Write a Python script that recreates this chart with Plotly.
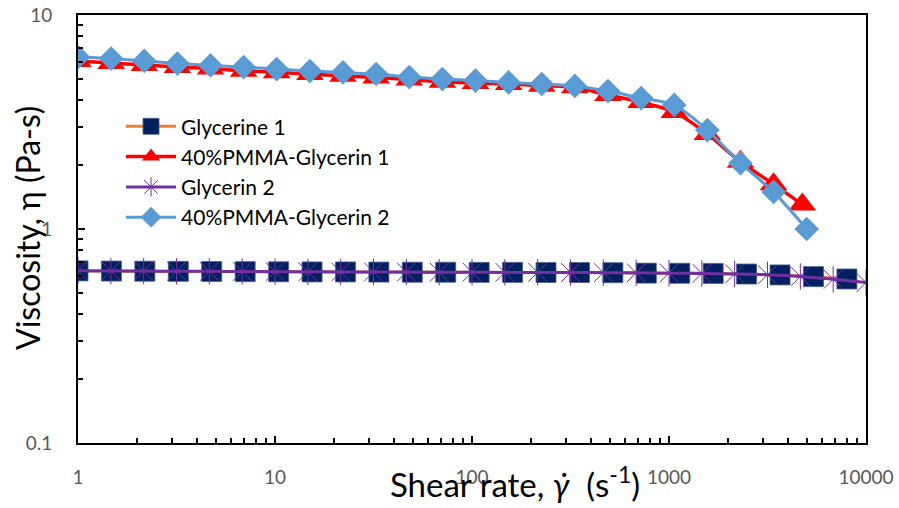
import plotly.graph_objects as go

# ---------------- data ----------------
shear_glycerine1 = [1.0, 1.478, 2.185, 3.230, 4.773, 7.055, 10.43, 15.42, 22.79, 33.68,
                    49.77, 73.56, 108.7, 160.7, 237.5, 351.1, 518.9, 767.0, 1134, 1676,
                    2477, 3662, 5413, 8000]
visc_glycerine1 = [0.637, 0.636, 0.635, 0.634, 0.633, 0.632, 0.631, 0.630, 0.630, 0.629,
                   0.628, 0.628, 0.627, 0.627, 0.626, 0.626, 0.625, 0.622, 0.621, 0.620,
                   0.616, 0.610, 0.599, 0.584]

shear_pmma1 = [1.0, 1.473, 2.169, 3.195, 4.705, 6.929, 10.20, 15.03, 22.14, 32.61,
               48.02, 70.72, 104.1, 153.4, 225.9, 332.7, 490.0, 721.8, 1063, 1565,
               2306, 3395, 4750]
visc_pmma1 = [6.10, 5.97, 5.84, 5.72, 5.62, 5.49, 5.40, 5.30, 5.20, 5.10,
              4.99, 4.88, 4.81, 4.76, 4.67, 4.59, 4.23, 3.92, 3.52, 2.78,
              2.06, 1.62, 1.30]

shear_glycerin2 = [1.0, 1.468, 2.154, 3.162, 4.642, 6.813, 10.0, 14.68, 21.54, 31.62,
                   46.42, 68.13, 100.0, 146.8, 215.4, 316.2, 464.2, 681.3, 1000, 1468,
                   2154, 3162, 4642, 6813, 10000]
visc_glycerin2 = [0.638, 0.637, 0.636, 0.635, 0.634, 0.633, 0.632, 0.631, 0.630, 0.630,
                  0.629, 0.628, 0.628, 0.627, 0.627, 0.626, 0.625, 0.624, 0.622, 0.620,
                  0.617, 0.611, 0.600, 0.582, 0.562]

shear_pmma2 = [1.0, 1.473, 2.169, 3.195, 4.705, 6.929, 10.20, 15.03, 22.14, 32.61,
               48.02, 70.72, 104.1, 153.4, 225.9, 332.7, 490.0, 721.8, 1063, 1565,
               2306, 3395, 5000]
visc_pmma2 = [6.36, 6.26, 6.10, 5.93, 5.81, 5.71, 5.59, 5.47, 5.39, 5.30,
              5.13, 5.02, 4.94, 4.84, 4.76, 4.66, 4.41, 4.09, 3.80, 2.90,
              2.03, 1.49, 1.00]

x_tick_values = [1, 10, 100, 1000, 10000]
x_tick_labels = ["1", "10", "100", "1000", "10000"]
y_tick_values = [0.1, 1, 10]
y_tick_labels = ["0.1", "1", "10"]

series_names = ["Glycerine 1", "40%PMMA-Glycerin 1", "Glycerin 2", "40%PMMA-Glycerin 2"]

# ---------------- figure ----------------
FONT = "Lato"
fig = go.Figure()

fig.add_trace(go.Scatter(
    x=shear_glycerine1, y=visc_glycerine1, name=series_names[0], mode="lines+markers",
    line=dict(color="#ED7D31", width=3, shape="spline", smoothing=0.6),
    marker=dict(symbol="square", size=20, color="#002060",
                line=dict(color="#4A5F86", width=0.8))))

fig.add_trace(go.Scatter(
    x=shear_pmma1, y=visc_pmma1, name=series_names[1], mode="lines+markers",
    line=dict(color="#FF0000", width=3.5, shape="spline", smoothing=0.6),
    marker=dict(symbol="triangle-up", size=24, color="#FF0000")))

fig.add_trace(go.Scatter(
    x=shear_glycerin2, y=visc_glycerin2, name=series_names[2], mode="lines+markers",
    line=dict(color="#7030A0", width=3, shape="spline", smoothing=0.6),
    marker=dict(symbol="asterisk-open", size=22, color="#7030A0",
                line=dict(color="#7030A0", width=1))))

fig.add_trace(go.Scatter(
    x=shear_pmma2, y=visc_pmma2, name=series_names[3], mode="lines+markers",
    line=dict(color="#5B9BD5", width=3, shape="spline", smoothing=0.6),
    marker=dict(symbol="diamond", size=19, color="#5B9BD5")))

minor_x = [m * 10 ** d for d in range(0, 4) for m in range(2, 10)]
minor_y = [m * 10 ** d for d in (-1, 0) for m in range(2, 10)]

fig.update_xaxes(
    type="log", range=[0, 4], automargin=False,
    tickmode="array", tickvals=x_tick_values, ticktext=x_tick_labels,
    ticks="inside", ticklen=7, tickwidth=1.5, tickcolor="black",
    minor=dict(tickmode="array", tickvals=minor_x, ticks="inside", ticklen=5,
               tickwidth=1.5, tickcolor="black", showgrid=False),
    showline=True, linecolor="black", linewidth=2, mirror=True,
    showgrid=False, zeroline=False,
    tickfont=dict(family=FONT, size=19, color="#595959"),
    ticklabelstandoff=16,
)
fig.update_yaxes(
    type="log", range=[-1, 1], automargin=False,
    tickmode="array", tickvals=y_tick_values, ticktext=y_tick_labels,
    ticks="inside", ticklen=7, tickwidth=1.5, tickcolor="black",
    minor=dict(tickmode="array", tickvals=minor_y, ticks="inside", ticklen=5,
               tickwidth=1.5, tickcolor="black", showgrid=False),
    showline=True, linecolor="black", linewidth=2, mirror=True,
    showgrid=False, zeroline=False,
    tickfont=dict(family=FONT, size=19, color="#595959"),
    ticklabelstandoff=20,
)

fig.update_layout(
    width=899, height=508,
    margin=dict(l=78, r=33, t=15, b=65),
    paper_bgcolor="white", plot_bgcolor="white",
    showlegend=True,
    legend=dict(x=0.0546, y=0.787, xanchor="left", yanchor="top",
                font=dict(family=FONT, size=21, color="black"),
                bgcolor="rgba(0,0,0,0)", itemwidth=50, tracegroupgap=0),
    annotations=[
        dict(text="Shear rate, <i>γ̇</i>  (s<sup>-1</sup>)", xref="paper", yref="paper",
             x=(515 - 78) / 788, y=(443 - 482) / 428, xanchor="center", yanchor="middle",
             showarrow=False, font=dict(family=FONT, size=33, color="black")),
        dict(text="Viscosity, η (Pa-s)", xref="paper", yref="paper", textangle=-90,
             x=(27 - 78) / 788, y=(443 - 228) / 428, xanchor="center", yanchor="middle",
             showarrow=False, font=dict(family=FONT, size=32, color="black")),
    ],
)

fig.write_html("out.html")
